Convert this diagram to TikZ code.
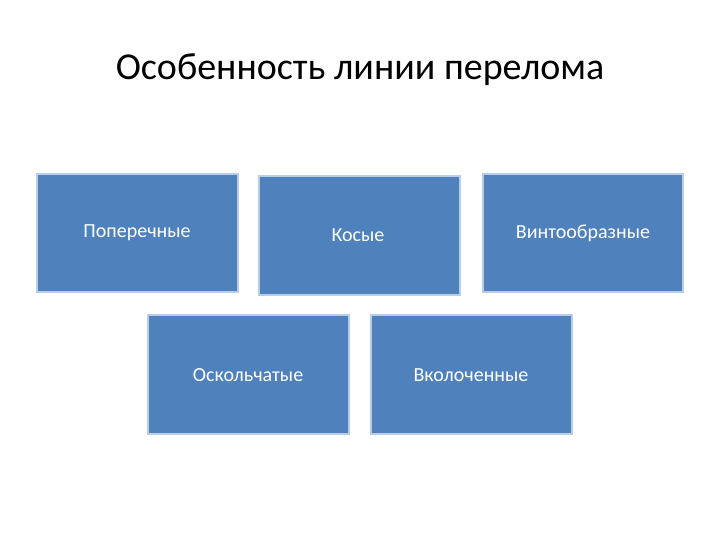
\documentclass[tikz,border=0pt]{standalone}
\usepackage{fontspec}
\setmainfont{Carlito}
\begin{document}
\begin{tikzpicture}[x=1pt,y=-1pt,
  box/.style={fill={rgb,255:red,79;green,129;blue,189},draw={rgb,255:red,185;green,205;blue,229},line width=1.5pt},
  lbl/.style={text=white,font=\fontsize{20}{24}\selectfont}]
\useasboundingbox (0,0) rectangle (720,540);
\node[font=\fontsize{38}{44}\selectfont] (title) at (360,70) {Особенность линии перелома};
\draw[box] (37,174) rectangle (238,292) coordinate (b1);
\draw[box] (259,176) rectangle (460,295);
\draw[box] (483,174) rectangle (683,292);
\draw[box] (148,315) rectangle (349,434);
\draw[box] (371,315) rectangle (572,434);
\node[lbl] (t1) at (137,233) {Поперечные};
\node[lbl] (t2) at (358,235) {Косые};
\node[lbl] (t3) at (583,233) {Винтообразные};
\node[lbl] (t4) at (248,375) {Оскольчатые};
\node[lbl] (t5) at (471,375) {Вколоченные};
\end{tikzpicture}
\end{document}
